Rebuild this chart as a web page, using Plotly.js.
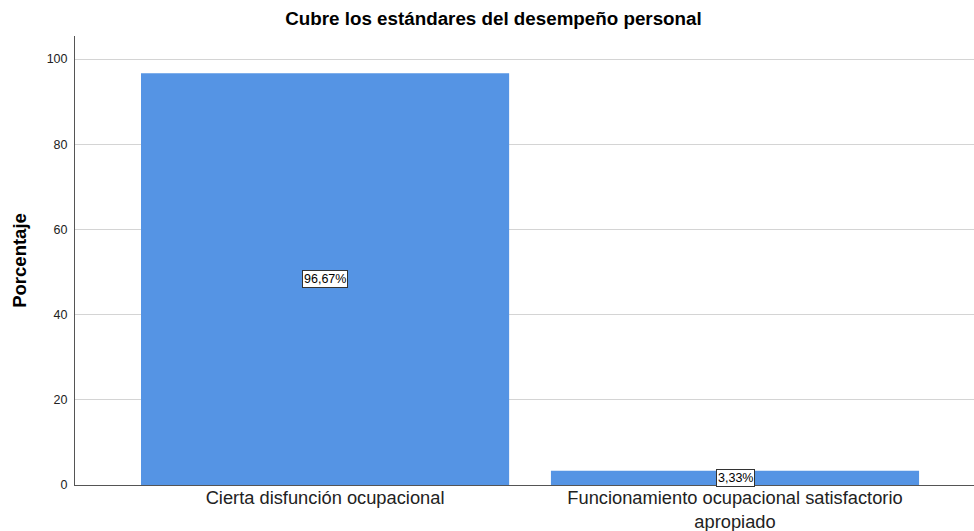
<!DOCTYPE html>
<html>
<head>
<meta charset="utf-8">
<script src="https://cdn.plot.ly/plotly-3.0.1.min.js"></script>
<style>html,body{margin:0;padding:0;background:#fff;}#chart{width:974px;height:531px;}</style>
</head>
<body>
<div id="chart"></div>
<script>
const categories = ["Cierta disfunción ocupacional", "Funcionamiento ocupacional satisfactorio<br>apropiado"];
const values = [96.67, 3.33];
const valueLabels = ["96,67%", "3,33%"];
const yTicks = [0, 20, 40, 60, 80, 100];

const FONT = 'Liberation Sans, Arial, sans-serif';

const annotations = values.map((v, i) => ({
  x: i, y: v / 2, xref: 'x', yref: 'y',
  text: valueLabels[i], showarrow: false,
  font: {family: FONT, size: 12.5, color: '#000'},
  bgcolor: '#ffffff', bordercolor: '#333333', borderwidth: 1, borderpad: 1
}));

const trace = {
  type: 'bar',
  x: categories.map((c, i) => i),
  y: values,
  width: 0.898,
  marker: {color: '#5594E4', line: {width: 0}},
  hoverinfo: 'none'
};

const layout = {
  width: 974, height: 531,
  margin: {l: 75, r: 0, t: 36, b: 46},
  paper_bgcolor: '#fff', plot_bgcolor: '#fff',
  showlegend: false,
  font: {family: FONT, color: '#222'},
  title: {
    text: '<b>Cubre los estándares del desempeño personal</b>',
    font: {family: FONT, size: 18.8, color: '#000'},
    x: 493.5 / 974, xref: 'container', xanchor: 'center', y: 1 - 18 / 531, yref: 'container', yanchor: 'middle'
  },
  xaxis: {
    range: [-0.61, 1.583],
    tickvals: [0, 1], ticktext: categories,
    tickfont: {size: 18.3, color: '#222'},
    showgrid: false, zeroline: false,
    showline: true, linecolor: '#555', linewidth: 1,
    ticks: '', ticklabelstandoff: -4
  },
  yaxis: {
    range: [0, 105.4],
    tickvals: yTicks,
    tickfont: {size: 12.5, color: '#222'},
    showgrid: true, gridcolor: '#d4d4d4', gridwidth: 1,
    zeroline: false,
    showline: true, linecolor: '#555', linewidth: 1,
    ticks: 'outside', ticklen: 4, tickcolor: 'rgba(0,0,0,0)',
    title: {text: '<b>Porcentaje</b>', font: {size: 18.5, color: '#000'}, standoff: 15}
  },
  annotations: annotations
};

Plotly.newPlot('chart', [trace], layout, {staticPlot: true, displayModeBar: false});
</script>
</body>
</html>
